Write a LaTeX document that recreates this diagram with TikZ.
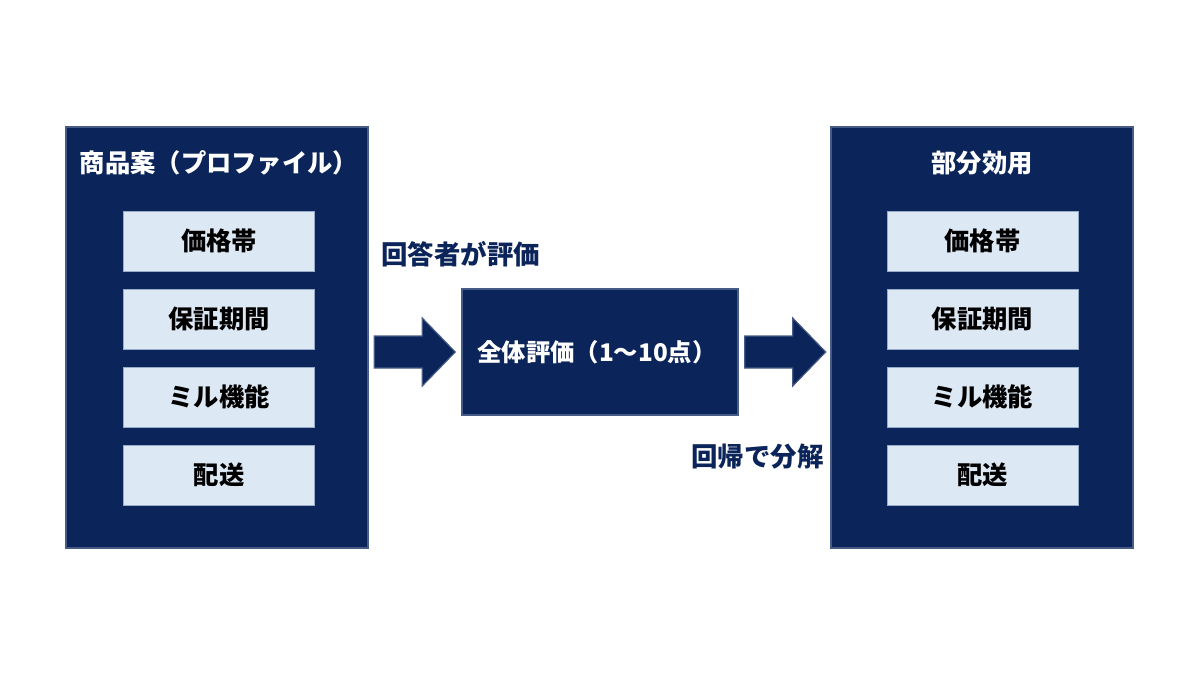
\documentclass[tikz,border=0pt]{standalone}
\usepackage{fontspec}
\setmainfont{Noto Sans CJK JP}
\usetikzlibrary{positioning,calc}
\definecolor{navy}{RGB}{11,36,89}
\definecolor{navyedge}{RGB}{70,92,135}
\definecolor{pale}{RGB}{220,232,244}
\definecolor{paleedge}{RGB}{150,172,200}
\tikzset{
  panel/.style={draw=navyedge, fill=navy, line width=1pt, minimum width=7.55cm, minimum height=10.525cm},
  ttl/.style={text=white, font=\fontsize{18pt}{21pt}\selectfont\bfseries},
  item/.style={draw=paleedge, fill=pale, line width=0.6pt, minimum width=4.775cm, minimum height=1.5cm,
               font=\fontsize{18pt}{21pt}\selectfont\bfseries, text=black},
  total/.style={draw=navyedge, fill=navy, line width=1pt, minimum width=6.9cm, minimum height=3.15cm},
  lbl/.style={text=navy, font=\fontsize{18.8pt}{22pt}\selectfont\bfseries, inner sep=0pt},
  blk/.style={draw=navyedge, fill=navy, line width=0.8pt, line join=miter},
}
\begin{document}
\begin{tikzpicture}[x=0.025cm, y=-0.025cm]
  \useasboundingbox (0,0) rectangle (1200,675);
  \node[panel] (prof) at (217,337.5) {};
  \node[ttl] (proft) at (219,163) {商品案（プロファイル）};
  \node[panel] (util) at (982,337.5) {};
  \node[ttl] (utilt) at (982,163) {部分効用};
  \foreach \txt [count=\i] in {価格帯,保証期間,ミル機能,配送} {
    \node[item] (prof-\i) at ($(prof.north)+(2,{37+78*\i})$) {\txt};
    \node[item] (util-\i) at ($(util.north)+(0.5,{37+78*\i})$) {\txt};
  }
  \node[total] (mid) at (600,352) {};
  \node[text=white, font=\fontsize{17.3pt}{20pt}\selectfont\bfseries] (midt) at (597,352) {全体評価（1〜10点）};
  % block arrows
  \fill[blk] ($(mid.west)+(-87,-16)$) -- ++(48,0) -- ++(0,-18) -- ++(33,34)
    -- ++(-33,34) -- ++(0,-18) -- ++(-48,0) -- cycle;
  \fill[blk] ($(mid.east)+(6,-16)$) -- ++(48,0) -- ++(0,-18) -- ++(33,34)
    -- ++(-33,34) -- ++(0,-18) -- ++(-48,0) -- cycle;
  \node[lbl, anchor=west] (rate) at (381,254) {回答者が評価};
  \node[lbl, anchor=west] (reg) at (691,457) {回帰で分解};
\end{tikzpicture}
\end{document}
